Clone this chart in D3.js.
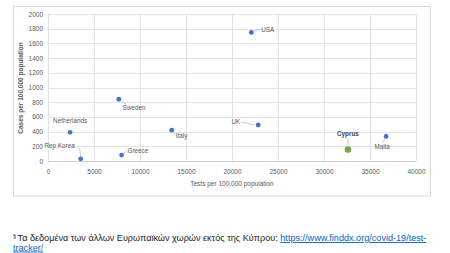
<!DOCTYPE html>
<html>
<head>
<meta charset="utf-8">
<script src="https://cdn.jsdelivr.net/npm/d3@7"></script>
<style>
  body { margin: 0; background: #fff; font-family: "Liberation Sans", Arial, sans-serif; }
  svg { display: block; }
</style>
</head>
<body>
<svg id="chart" width="450" height="253"></svg>
<script>
// countries with tests and cases per 100,000 population
const countries = ["USA", "Sweden", "Netherlands", "Rep Korea", "Greece", "Italy", "UK", "Cyprus", "Malta"];
const tests = [22100, 7700, 2400, 3550, 8000, 13450, 22850, 32600, 36750];
const cases = [1750, 840, 390, 30, 80, 420, 490, 155, 335];

const xTicks = [0, 5000, 10000, 15000, 20000, 25000, 30000, 35000, 40000];
const yTicks = [0, 200, 400, 600, 800, 1000, 1200, 1400, 1600, 1800, 2000];

// label placement relative to point: [dx, dy, anchor, leader]
const labelLayout = {
    "USA": [10, -2, "start", [[2, -1], [9, -3]]],
    "Sweden": [4, 9, "start", [[2, 1], [7, 5]]],
    "Netherlands": [0, -11, "middle", null],
    "Rep Korea": [-6, -12, "end", [[0, -2], [-1, -10], [-3, -12]]],
    "Greece": [6, -4, "start", [[2, -2], [5, -4]]],
    "Italy": [4, 6, "start", [[2, 2], [4, 5]]],
    "UK": [-18, -3, "end", [[-3, 0], [-17, -3]]],
    "Cyprus": [0, -15, "middle", [[0, -4], [0, -11]]],
    "Malta": [-4, 11, "middle", [[-1, 2], [-4, 7]]]
};

const svg = d3.select("#chart");

svg.append("rect")
    .attr("x", 13.5).attr("y", 6.5)
    .attr("width", 417).attr("height", 189.5)
    .attr("fill", "#fff")
    .attr("stroke", "#d9d9d9");

const x = d3.scaleLinear().domain([0, 40000]).range([48, 416]);
const y = d3.scaleLinear().domain([0, 2000]).range([161, 14]);

// grid
svg.append("g")
    .selectAll("line")
    .data(xTicks)
    .join("line")
    .attr("x1", d => Math.round(x(d)) + 0.5).attr("x2", d => Math.round(x(d)) + 0.5)
    .attr("y1", y(2000)).attr("y2", y(0))
    .attr("stroke", "#e3e3e3");

svg.append("g")
    .selectAll("line")
    .data(yTicks)
    .join("line")
    .attr("x1", x(0)).attr("x2", x(40000))
    .attr("y1", d => Math.round(y(d)) + 0.5).attr("y2", d => Math.round(y(d)) + 0.5)
    .attr("stroke", d => d === 0 ? "#d0d0d0" : "#e3e3e3");

const xAxis = d3.axisBottom(x).tickValues(xTicks).tickSize(0).tickPadding(8).tickFormat(d3.format("d"));
const yAxis = d3.axisLeft(y).tickValues(yTicks).tickSize(0).tickPadding(5).tickFormat(d3.format("d"));

const gx = svg.append("g").attr("transform", `translate(0,${y(0)})`).call(xAxis);
const gy = svg.append("g").attr("transform", `translate(${x(0)},0)`).call(yAxis);

[gx, gy].forEach(g => {
    g.select(".domain").remove();
    g.selectAll("text")
        .attr("fill", "#595959")
        .style("font-family", "'Liberation Sans', Arial, sans-serif")
        .style("font-size", "6.5px");
});

svg.append("text")
    .attr("x", 232).attr("y", 186)
    .attr("text-anchor", "middle")
    .attr("fill", "#595959")
    .style("font-size", "6.5px")
    .text("Tests per 100,000 population");

svg.append("text")
    .attr("transform", "translate(23,88) rotate(-90)")
    .attr("text-anchor", "middle")
    .attr("fill", "#595959")
    .style("font-size", "6.5px")
    .style("font-weight", "bold")
    .text("Cases per 100,000 population");

const data = countries.map((c, i) => ({ name: c, tests: tests[i], cases: cases[i] }));

// leader lines and labels
const labels = svg.append("g");
data.forEach(d => {
    const [dx, dy, anchor, leader] = labelLayout[d.name];
    const px = x(d.tests), py = y(d.cases);
    if (leader) {
        labels.append("path")
            .attr("d", d3.line()(leader.map(p => [px + p[0], py + p[1]])))
            .attr("fill", "none")
            .attr("stroke", "#a6a6a6")
            .attr("stroke-width", 0.6);
    }
    labels.append("text")
        .attr("x", px + dx).attr("y", py + dy)
        .attr("text-anchor", anchor)
        .attr("dominant-baseline", "middle")
        .attr("fill", d.name === "Cyprus" ? "#404040" : "#595959")
        .style("font-size", "6.3px")
        .style("font-weight", d.name === "Cyprus" ? "bold" : "normal")
        .text(d.name);
});

svg.append("g")
    .selectAll("circle")
    .data(data)
    .join("circle")
    .attr("cx", d => x(d.tests))
    .attr("cy", d => y(d.cases))
    .attr("r", d => d.name === "Cyprus" ? 3.3 : 2.4)
    .attr("fill", d => d.name === "Cyprus" ? "#70ad47" : "#4472c4");

// footnote
const note = svg.append("text")
    .attr("x", 13).attr("y", 241)
    .attr("fill", "#222")
    .style("font-size", "9.1px");
note.append("tspan").attr("font-size", "5.5px").attr("dy", "-3").text("§ ");
note.append("tspan").attr("dy", "3").text("Τα δεδομένα των άλλων Ευρωπαϊκών χωρών εκτός της Κύπρου: ");
note.append("tspan")
    .attr("fill", "#0563c1")
    .attr("text-decoration", "underline")
    .text("https://www.finddx.org/covid-19/test-");

svg.append("text")
    .attr("x", 13).attr("y", 250.5)
    .attr("fill", "#0563c1")
    .attr("text-decoration", "underline")
    .style("font-size", "9.1px")
    .text("tracker/");
</script>
</body>
</html>
